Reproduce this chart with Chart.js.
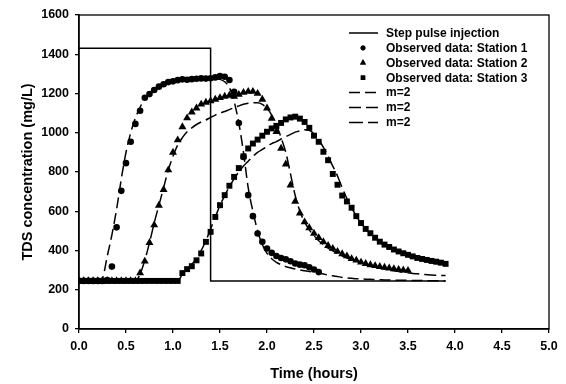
<!DOCTYPE html>
<html>
<head>
<meta charset="utf-8">
<script src="https://cdn.jsdelivr.net/npm/chart.js"></script>
<style>
  html, body { margin: 0; padding: 0; background: #fff; }
  #wrap { width: 566px; height: 384px; }
</style>
</head>
<body>
<div id="wrap"><canvas id="tds" width="566" height="384"></canvas></div>
<script>
// sampling times (hours)
const hours = [
  0, 0.05, 0.1, 0.15, 0.2, 0.25, 0.3, 0.35, 0.4, 0.45,
  0.5, 0.55, 0.6, 0.65, 0.7, 0.75, 0.8, 0.85, 0.9, 0.95,
  1.0, 1.05, 1.1, 1.15, 1.2, 1.25, 1.3, 1.35, 1.4, 1.45,
  1.5, 1.55, 1.6, 1.65, 1.7, 1.75, 1.8, 1.85, 1.9, 1.95,
  2.0, 2.05, 2.1, 2.15, 2.2, 2.25, 2.3, 2.35, 2.4, 2.45,
  2.5, 2.55, 2.6, 2.65, 2.7, 2.75, 2.8, 2.85, 2.9, 2.95,
  3.0, 3.05, 3.1, 3.15, 3.2, 3.25, 3.3, 3.35, 3.4, 3.45,
  3.5, 3.55, 3.6, 3.65, 3.7, 3.75, 3.8, 3.85, 3.9
];

// observed TDS (mg/L)
const station1 = [
  245, 245, 245, 245, 245, 245, 250, 318, 518, 704,
  845, 954, 1045, 1112, 1178, 1197, 1218, 1235, 1247, 1258,
  1262, 1268, 1272, 1270, 1273, 1275, 1277, 1276, 1278, 1282,
  1289, 1285, 1269, 1209, 1050, 877, 682, 575, 487, 444,
  410, 388, 372, 362, 355, 345, 334, 328, 325, 315,
  303, 290, null, null, null, null, null, null, null, null,
  null, null, null, null, null, null, null, null, null, null,
  null, null, null, null, null, null, null, null, null
];
const station2 = [
  245, 245, 245, 245, 245, 245, 245, 245, 245, 245,
  245, 245, 245, 285, 345, 440, 530, 630, 710, 810,
  900, 963, 1030, 1075, 1105, 1125, 1145, 1155, 1162, 1170,
  1178, 1185, 1190, 1185, 1195, 1205, 1210, 1210, 1200, 1170,
  1125, 1073, 1005, 920, 840, 733, 650, 590, 545, 515,
  487, 465, 444, 425, 410, 395, 383, 372, 358, 350,
  340, 333, 327, 322, 318, 314, 310, 306, 303, 300,
  298, null, null, null, null, null, null, null, null
];
const station3 = [
  245, 245, 245, 245, 245, 245, 245, 245, 245, 245,
  245, 245, 245, 245, 245, 245, 245, 245, 245, 245,
  245, 245, 285, 305, 320, 350, 385, 444, 495, 571,
  631, 682, 730, 775, 820, 880, 920, 945, 965, 985,
  1005, 1022, 1035, 1050, 1068, 1078, 1082, 1072, 1055, 1025,
  985, 954, 903, 860, 790, 735, 680, 650, 618, 575,
  540, 510, 488, 465, 445, 430, 418, 405, 395, 386,
  378, 370, 362, 357, 352, 347, 343, 338, 332
];

// model curves, m=2
const fit1 = [
  245, 245, 245, 245, 245, 260, 370, 480, 610, 765,
  900, 1000, 1075, 1130, 1175, 1200, 1215, 1230, 1240, 1248,
  1255, 1260, 1263, 1265, 1267, 1270, 1272, 1273, 1275, 1275,
  1272, 1260, 1230, 1160, 1050, 900, 720, 600, 500, 430,
  385, 358, 340, 328, 318, 312, 306, 301, 297, 293,
  290, 285, 280, 275, 271, 267, 263, 260, 258, 256,
  255, 254, 253, 252, 251, 250, 250, 249, 249, 248,
  248, 247, 247, 247, 246, 246, 246, 245, 245
];
const fit2 = [
  245, 245, 245, 245, 245, 245, 245, 245, 245, 245,
  245, 245, 245, 280, 350, 440, 540, 630, 720, 810,
  880, 937, 975, 1005, 1025, 1042, 1055, 1065, 1078, 1090,
  1100, 1108, 1118, 1128, 1137, 1145, 1150, 1153, 1153, 1145,
  1125, 1090, 1040, 975, 900, 790, 680, 600, 545, 505,
  475, 450, 430, 412, 398, 385, 372, 362, 352, 344,
  337, 330, 323, 317, 311, 306, 301, 297, 293, 289,
  286, 283, 281, 279, 277, 275, 274, 273, 272
];
const fit3 = [
  245, 245, 245, 245, 245, 245, 245, 245, 245, 245,
  245, 245, 245, 245, 245, 245, 245, 245, 245, 245,
  245, 245, 280, 305, 330, 360, 400, 450, 510, 570,
  630, 680, 725, 765, 800, 830, 855, 880, 900, 915,
  930, 945, 955, 968, 980, 992, 1003, 1010, 1015, 1012,
  995, 965, 925, 880, 830, 780, 720, 665, 618, 575,
  540, 510, 485, 462, 443, 427, 413, 400, 390, 380,
  371, 363, 356, 350, 344, 339, 334, 330, 326
];

// injected step pulse
const stepTime = [0, 1.4, 1.4, 3.9];
const stepConc = [1430, 1430, 245, 245];

const xTicks = [0, 0.5, 1, 1.5, 2, 2.5, 3, 3.5, 4, 4.5, 5];
const yTicks = [0, 200, 400, 600, 800, 1000, 1200, 1400, 1600];

const FONT = "'Liberation Sans', Arial, sans-serif";

const pts = (xs, ys) => xs.map((x, i) => ({ x: x, y: ys[i] })).filter(p => p.y !== null);

const lineSet = (label, xs, ys, dash) => ({
  label: label,
  data: pts(xs, ys),
  showLine: true,
  borderColor: '#000',
  borderWidth: 1.5,
  borderDash: dash,
  pointRadius: 0,
  cubicInterpolationMode: dash.length ? 'monotone' : 'default',
  fill: false
});

const markSet = (label, ys, style, r) => ({
  label: label,
  data: pts(hours, ys),
  showLine: false,
  pointStyle: style,
  pointRadius: r,
  backgroundColor: '#000',
  borderColor: '#000',
  borderWidth: 0
});

// frame round plot area + legend inside it
const framePlugin = {
  id: 'frame',
  afterDraw(chart) {
    const { ctx, chartArea: a } = chart;
    ctx.save();
    ctx.strokeStyle = '#000';
    ctx.lineWidth = 1.3;
    ctx.strokeRect(a.left, a.top, a.right - a.left, a.bottom - a.top);

    const rowH = 14.9;
    const x0 = a.right - 200;
    const y0 = a.top + 18;
    ctx.font = 'bold 12px ' + FONT;
    ctx.textBaseline = 'middle';
    ctx.fillStyle = '#000';
    chart.data.datasets.forEach((ds, i) => {
      const y = y0 + i * rowH;
      if (ds.showLine) {
        ctx.beginPath();
        ctx.lineWidth = 1.5;
        ctx.setLineDash(ds.borderDash || []);
        ctx.moveTo(x0, y);
        ctx.lineTo(x0 + 29, y);
        ctx.stroke();
        ctx.setLineDash([]);
      } else {
        Chart.helpers.drawPoint(ctx, { pointStyle: ds.pointStyle, radius: ds.pointRadius * 0.75, borderWidth: 0 }, x0 + 14, y);
        ctx.fill();
      }
      ctx.fillText(ds.label, x0 + 37, y + 0.5);
    });
    ctx.restore();
  }
};

new Chart(document.getElementById('tds'), {
  type: 'scatter',
  data: {
    datasets: [
      lineSet('Step pulse injection', stepTime, stepConc, []),
      markSet('Observed data: Station 1', station1, 'circle', 3.3),
      markSet('Observed data: Station 2', station2, 'triangle', 4.6),
      markSet('Observed data: Station 3', station3, 'rect', 4.2),
      lineSet('m=2', hours, fit1, [11, 5]),
      lineSet('m=2', hours, fit2, [12, 5]),
      lineSet('m=2', hours, fit3, [14, 5])
    ]
  },
  options: {
    responsive: false,
    devicePixelRatio: 1,
    animation: false,
    layout: { padding: { top: 15, right: 17, left: 0, bottom: 0 } },
    plugins: {
      legend: { display: false },
      tooltip: { enabled: false }
    },
    scales: {
      x: {
        type: 'linear',
        min: 0,
        max: 5,
        afterFit: s => { s.height = 55; },
        afterBuildTicks: s => { s.ticks = xTicks.map(v => ({ value: v })); },
        ticks: {
          color: '#000',
          padding: 6,
          font: { family: FONT, size: 12.5, weight: 'bold' },
          callback: v => v.toFixed(1)
        },
        grid: { drawOnChartArea: false, drawTicks: true, tickLength: 4, color: '#000', lineWidth: 1.3 },
        border: { display: true, color: '#000', width: 1.5 },
        title: {
          display: true,
          text: 'Time (hours)',
          color: '#000',
          font: { family: FONT, size: 14.5, weight: 'bold' },
          padding: { top: 0, bottom: 1 }
        }
      },
      y: {
        type: 'linear',
        min: 0,
        max: 1600,
        afterFit: s => { s.width = 79; },
        afterBuildTicks: s => { s.ticks = yTicks.map(v => ({ value: v })); },
        ticks: {
          color: '#000',
          padding: 6,
          font: { family: FONT, size: 12.5, weight: 'bold' },
          callback: v => String(v)
        },
        grid: { drawOnChartArea: false, drawTicks: true, tickLength: 4, color: '#000', lineWidth: 1.3 },
        border: { display: true, color: '#000', width: 1.5 },
        title: {
          display: true,
          text: 'TDS concentration (mg/L)',
          color: '#000',
          font: { family: FONT, size: 14.5, weight: 'bold' },
          padding: { top: 19, bottom: 0 }
        }
      }
    }
  },
  plugins: [framePlugin]
});
</script>
</body>
</html>
